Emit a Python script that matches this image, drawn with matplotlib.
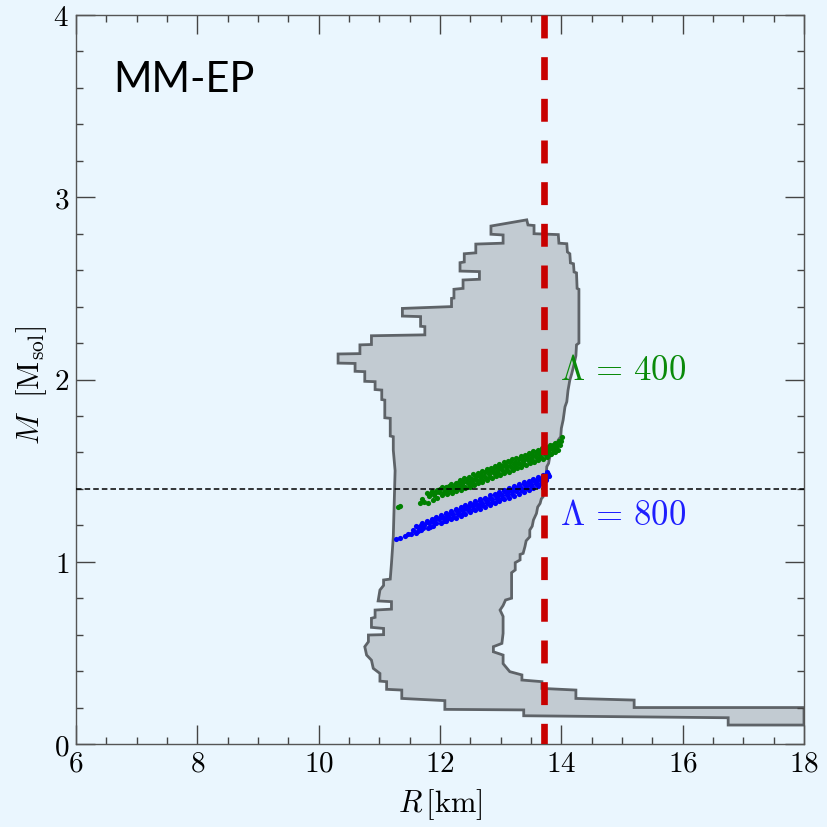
import matplotlib
matplotlib.use("Agg")
import matplotlib.pyplot as plt
from matplotlib.ticker import MultipleLocator, FixedLocator, FixedFormatter

plt.rcParams["mathtext.fontset"] = "cm"
plt.rcParams["lines.scale_dashes"] = False

# Envelope of allowed mass-radius curves, (R [km], M [M_sol]) vertices
contour_right = [
    (12.84, 2.842), (13.43, 2.876), (13.45, 2.848), (13.55, 2.845), (13.55, 2.800),
    (13.95, 2.795), (13.96, 2.748), (14.09, 2.745), (14.10, 2.700), (14.14, 2.690),
    (14.15, 2.640), (14.20, 2.635), (14.21, 2.590), (14.25, 2.585), (14.26, 2.500),
    (14.29, 2.495), (14.29, 2.200), (14.25, 2.190), (14.24, 2.130), (14.20, 2.070),
    (14.17, 2.030), (14.14, 1.997), (14.11, 1.940), (14.09, 1.878), (14.06, 1.850),
    (14.03, 1.778), (14.00, 1.732), (13.99, 1.686), (13.95, 1.668), (13.90, 1.630),
    (13.87, 1.595), (13.81, 1.577), (13.79, 1.540), (13.76, 1.522), (13.75, 1.467),
    (13.72, 1.410), (13.70, 1.357), (13.67, 1.345), (13.65, 1.320), (13.61, 1.300),
    (13.59, 1.265), (13.54, 1.229), (13.52, 1.195), (13.48, 1.174), (13.48, 1.137),
    (13.42, 1.115), (13.40, 1.083), (13.37, 1.046), (13.32, 1.040), (13.32, 1.010),
    (13.24, 0.995), (13.24, 0.955), (13.18, 0.940), (13.18, 0.800), (13.08, 0.790),
    (13.04, 0.760), (12.99, 0.735), (13.04, 0.700), (13.04, 0.607), (13.02, 0.552),
    (12.88, 0.534), (12.88, 0.506), (13.04, 0.488), (13.04, 0.441), (13.15, 0.397),
    (13.35, 0.379), (13.35, 0.351), (13.68, 0.342), (13.68, 0.305), (14.24, 0.296),
    (14.24, 0.250), (15.20, 0.241), (15.20, 0.200), (18.00, 0.200),
]
contour_left = [
    (18.00, 0.104), (16.75, 0.104), (16.75, 0.144), (13.38, 0.155), (13.38, 0.187),
    (12.08, 0.190), (12.08, 0.238), (11.37, 0.250), (11.37, 0.296), (11.12, 0.300),
    (11.12, 0.342), (11.01, 0.345), (11.01, 0.387), (10.90, 0.415), (10.87, 0.460),
    (10.79, 0.488), (10.76, 0.534), (10.82, 0.561), (10.82, 0.598), (11.07, 0.600),
    (11.07, 0.634), (10.87, 0.640), (10.87, 0.690), (10.93, 0.695), (10.93, 0.735),
    (11.20, 0.740), (11.20, 0.781), (10.98, 0.785), (11.01, 0.845), (11.07, 0.870),
    (11.07, 0.900), (11.18, 0.905), (11.20, 0.990), (11.23, 1.137), (11.26, 1.500),
    (11.23, 1.613), (11.23, 1.686), (11.18, 1.690), (11.18, 1.787), (11.09, 1.790),
    (11.09, 1.887), (11.04, 1.890), (11.04, 1.942), (10.93, 1.945), (10.93, 1.988),
    (10.76, 1.990), (10.76, 2.043), (10.60, 2.045), (10.60, 2.088), (10.32, 2.090),
    (10.32, 2.140), (10.68, 2.142), (10.68, 2.190), (10.87, 2.192), (10.87, 2.240),
    (11.75, 2.245), (11.75, 2.290), (11.68, 2.292), (11.68, 2.345), (11.38, 2.348),
    (11.38, 2.390), (12.19, 2.400), (12.19, 2.445), (12.23, 2.447), (12.23, 2.495),
    (12.38, 2.500), (12.38, 2.546), (12.65, 2.550), (12.65, 2.592), (12.33, 2.595),
    (12.33, 2.641), (12.40, 2.645), (12.40, 2.690), (12.59, 2.695), (12.59, 2.743),
    (13.04, 2.748), (13.04, 2.793), (12.84, 2.797),
]

# Stars with tidal deformability Lambda = 400, (R, M)
lam400_points = [
    (11.31, 1.302), (11.34, 1.305), (11.67, 1.322), (11.74, 1.330), (11.80, 1.320),
    (11.88, 1.340), (11.70, 1.345), (11.82, 1.362), (11.90, 1.366), (11.99, 1.380),
    (12.07, 1.385), (12.14, 1.398), (12.22, 1.405), (12.30, 1.414), (12.37, 1.424),
    (12.44, 1.436), (12.51, 1.443), (12.58, 1.452), (12.66, 1.465), (12.73, 1.470),
    (12.80, 1.482), (12.87, 1.490), (12.94, 1.500), (13.01, 1.508), (13.08, 1.518),
    (13.15, 1.526), (13.22, 1.536), (13.29, 1.544), (13.36, 1.553), (13.43, 1.562),
    (13.50, 1.571), (13.57, 1.580), (13.64, 1.589), (13.71, 1.598), (13.78, 1.607),
    (13.85, 1.617), (13.92, 1.628), (13.97, 1.640),
    (11.78, 1.375), (11.86, 1.388), (11.95, 1.392), (12.03, 1.408), (12.10, 1.412),
    (12.18, 1.428), (12.26, 1.434), (12.33, 1.447), (12.40, 1.462), (12.47, 1.466),
    (12.55, 1.480), (12.62, 1.487), (12.70, 1.500), (12.77, 1.508), (12.84, 1.514),
    (12.91, 1.527), (12.98, 1.534), (13.05, 1.546), (13.12, 1.551), (13.19, 1.563),
    (13.26, 1.570), (13.33, 1.580), (13.40, 1.588), (13.47, 1.596), (13.54, 1.605),
    (13.61, 1.613), (13.68, 1.622), (13.75, 1.630), (13.82, 1.640), (13.89, 1.650),
    (13.96, 1.662), (14.01, 1.683),
    (12.12, 1.370), (12.19, 1.378), (12.27, 1.386), (12.35, 1.395), (12.42, 1.404),
    (12.49, 1.412), (12.56, 1.421), (12.63, 1.430), (12.70, 1.440), (12.78, 1.449),
    (12.85, 1.457), (12.92, 1.468), (12.99, 1.477), (13.06, 1.485), (13.13, 1.494),
    (13.20, 1.503), (13.27, 1.513), (13.34, 1.520), (13.41, 1.530), (13.48, 1.540),
    (13.55, 1.548), (13.62, 1.558), (13.69, 1.566), (13.76, 1.577), (13.83, 1.590),
    (13.90, 1.603),
    (11.85, 1.379), (11.93, 1.383), (12.00, 1.398), (12.08, 1.399), (12.15, 1.417),
    (12.23, 1.418), (12.31, 1.435), (12.38, 1.437), (12.45, 1.455), (12.52, 1.456),
    (12.59, 1.472), (12.67, 1.478), (12.74, 1.491), (12.81, 1.496), (12.88, 1.509),
    (12.95, 1.514), (13.02, 1.528), (13.09, 1.531), (13.16, 1.546), (13.23, 1.548),
    (13.30, 1.565), (13.37, 1.566), (13.44, 1.582), (13.51, 1.585), (13.58, 1.600),
    (13.65, 1.603), (13.72, 1.618), (13.79, 1.621), (13.86, 1.638), (13.93, 1.643),
    (13.99, 1.664),
    (11.95, 1.352), (12.04, 1.368), (12.11, 1.375), (12.18, 1.388), (12.26, 1.391),
    (12.34, 1.408), (12.41, 1.410), (12.48, 1.424), (12.55, 1.430), (12.62, 1.443),
    (12.69, 1.447), (12.76, 1.462), (12.83, 1.464), (12.90, 1.481), (12.97, 1.483),
    (13.04, 1.498), (13.11, 1.502), (13.18, 1.514), (13.25, 1.518), (13.32, 1.535),
    (13.39, 1.536), (13.46, 1.552), (13.53, 1.555), (13.60, 1.569), (13.67, 1.573),
    (13.74, 1.588), (13.81, 1.592), (13.88, 1.609), (13.94, 1.615),
]

# Stars with tidal deformability Lambda = 800, (R, M)
lam800_points = [
    (11.28, 1.127), (11.34, 1.132), (11.42, 1.140), (11.52, 1.150), (11.60, 1.160),
    (11.68, 1.175), (11.80, 1.185), (11.88, 1.194), (12.02, 1.212), (12.10, 1.222),
    (12.18, 1.232), (12.26, 1.242), (12.34, 1.253), (12.42, 1.262), (12.50, 1.272),
    (12.58, 1.282), (12.66, 1.292), (12.74, 1.302), (12.82, 1.313), (12.90, 1.322),
    (12.98, 1.333), (13.06, 1.343), (13.14, 1.352), (13.22, 1.363), (13.30, 1.373),
    (13.38, 1.383), (13.46, 1.393), (13.54, 1.403), (13.62, 1.414), (13.70, 1.425),
    (11.56, 1.175), (11.64, 1.190), (11.74, 1.200), (11.82, 1.210), (11.90, 1.220),
    (11.98, 1.232), (12.06, 1.240), (12.14, 1.252), (12.22, 1.262), (12.30, 1.272),
    (12.38, 1.283), (12.46, 1.293), (12.54, 1.304), (12.62, 1.314), (12.70, 1.325),
    (12.78, 1.335), (12.86, 1.345), (12.94, 1.356), (13.02, 1.366), (13.10, 1.376),
    (13.18, 1.386), (13.26, 1.397), (13.34, 1.407), (13.42, 1.418), (13.50, 1.428),
    (13.58, 1.438), (13.66, 1.448), (13.74, 1.458), (13.80, 1.470),
    (11.70, 1.215), (11.78, 1.225), (11.86, 1.236), (11.94, 1.246), (12.02, 1.258),
    (12.10, 1.268), (12.18, 1.278), (12.26, 1.288), (12.34, 1.300), (12.42, 1.310),
    (12.50, 1.322), (12.58, 1.332), (12.66, 1.343), (12.74, 1.352), (12.82, 1.364),
    (12.90, 1.374), (12.98, 1.384), (13.06, 1.394), (13.14, 1.405), (13.22, 1.415),
    (13.30, 1.425), (13.38, 1.435), (13.46, 1.445), (13.54, 1.455), (13.62, 1.466),
    (13.70, 1.478), (13.76, 1.490),
    (11.60, 1.196), (11.69, 1.203), (11.78, 1.218), (11.86, 1.225), (11.94, 1.240),
    (12.02, 1.247), (12.10, 1.262), (12.18, 1.268), (12.26, 1.282), (12.34, 1.289),
    (12.42, 1.303), (12.50, 1.310), (12.58, 1.324), (12.66, 1.331), (12.74, 1.345),
    (12.82, 1.352), (12.90, 1.366), (12.98, 1.372), (13.06, 1.387), (13.14, 1.393),
    (13.22, 1.407), (13.30, 1.414), (13.38, 1.428), (13.46, 1.434), (13.54, 1.448),
    (13.62, 1.455), (13.70, 1.469), (13.78, 1.480),
    (11.48, 1.150), (11.63, 1.168), (11.72, 1.184), (11.84, 1.192), (11.94, 1.210),
    (12.06, 1.226), (12.14, 1.240), (12.22, 1.247), (12.30, 1.261), (12.38, 1.268),
    (12.46, 1.282), (12.54, 1.289), (12.62, 1.303), (12.70, 1.310), (12.78, 1.324),
    (12.86, 1.330), (12.94, 1.345), (13.02, 1.351), (13.10, 1.365), (13.18, 1.371),
    (13.26, 1.386), (13.34, 1.392), (13.42, 1.406), (13.50, 1.413), (13.58, 1.427),
    (13.66, 1.433), (13.74, 1.449),
]

radius_limit = 13.72      # km
canonical_mass = 1.4      # M_sol

x_ticks = [6, 8, 10, 12, 14, 16, 18]
y_ticks = [0, 1, 2, 3, 4]

contour = contour_right + contour_left
contour_R = [p[0] for p in contour]
contour_M = [p[1] for p in contour]

bg = "#EAF6FE"
fig = plt.figure(figsize=(8.27, 8.27), dpi=100, facecolor=bg)
ax = fig.add_axes([76 / 827, 83 / 827, 728 / 827, 729 / 827], facecolor=bg)

ax.fill(contour_R, contour_M, facecolor="#C2CBD2", edgecolor="#5E6368",
        linewidth=2.0, zorder=1)

ax.scatter([p[0] for p in lam400_points], [p[1] for p in lam400_points],
           s=14, color="#008000", linewidths=0, zorder=3)
ax.scatter([p[0] for p in lam800_points], [p[1] for p in lam800_points],
           s=14, color="#0000FF", linewidths=0, zorder=3)

ax.axhline(canonical_mass, color="black", linewidth=1.1, dashes=(4.0, 2.2), zorder=4)
ax.plot([radius_limit, radius_limit], [4, 0], color="#C80000", linewidth=4.8,
        dashes=(16.5, 13.5), zorder=5, solid_capstyle="butt", dash_capstyle="butt")

ax.text(13.98, 2.0, r"$\Lambda\,=\,400$", color="#0A8A0A", fontsize=25, zorder=6)
ax.text(13.98, 1.2, r"$\Lambda\,=\,800$", color="#1E1EFF", fontsize=25, zorder=6)
ax.text(6.61, 3.577, "MM-EP", family="Lato", fontsize=30, color="black", va="baseline")

ax.set_xlim(6, 18)
ax.set_ylim(0, 4)
ax.xaxis.set_major_locator(FixedLocator(x_ticks))
ax.xaxis.set_major_formatter(FixedFormatter([f"${t}$" for t in x_ticks]))
ax.yaxis.set_major_locator(FixedLocator(y_ticks))
ax.yaxis.set_major_formatter(FixedFormatter([f"${t}$" for t in y_ticks]))
ax.xaxis.set_minor_locator(MultipleLocator(0.5))
ax.yaxis.set_minor_locator(MultipleLocator(0.2))
ax.tick_params(which="both", direction="in", top=True, right=True,
               color="#444444", width=1.0, labelsize=21)
ax.tick_params(which="major", length=14)
ax.tick_params(which="minor", length=5)
ax.tick_params(axis="x", pad=4)
ax.tick_params(axis="y", pad=5)
for sp in ax.spines.values():
    sp.set_color("#555555")
    sp.set_linewidth(1.0)

ax.set_xlabel(r"$R\,[\mathrm{km}]$", fontsize=22)
ax.set_ylabel(r"$M\ \ [\mathrm{M_{sol}}]$", fontsize=22)
ax.xaxis.set_label_coords(0.5, -0.059)
ax.yaxis.set_label_coords(-0.037, 0.4925)

fig.savefig("out.png", dpi=100, facecolor=bg)
